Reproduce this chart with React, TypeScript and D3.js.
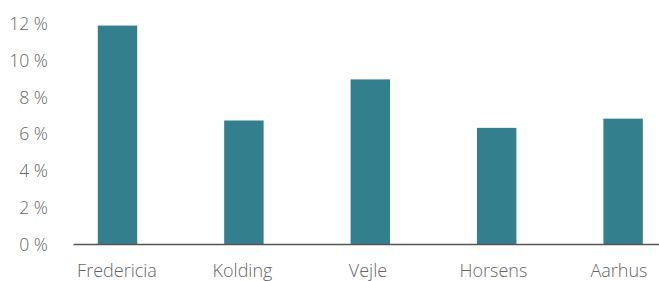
import { FC, useEffect, useRef } from 'react';
import * as d3 from 'd3';

const cities = ['Fredericia', 'Kolding', 'Vejle', 'Horsens', 'Aarhus'];
const shares = [11.85, 6.7, 8.93, 6.3, 6.8];
const yTicks = [0, 2, 4, 6, 8, 10, 12];

const width = 659;
const height = 281;

const Chart: FC = () => {
  const svgRef = useRef<SVGSVGElement>(null);

  useEffect(() => {
    if (!svgRef.current) return;
    const svg = d3.select(svgRef.current);
    svg.selectAll('*').remove();

    const font = '"Open Sans", "Segoe UI", sans-serif';

    const x = d3.scaleBand<string>()
        .domain(cities)
        .range([54.3, 686.3])
        .paddingInner(0.688)
        .paddingOuter(0.344);

    // labels sit on a slightly tighter spacing than the bars
    const xLabel = d3.scalePoint<string>()
        .domain(cities)
        .range([117, 619]);

    const y = d3.scaleLinear()
        .domain([0, 12])
        .range([244, 22.8]);

    // y tick labels (no axis line)
    svg.append('g')
        .selectAll('text')
        .data(yTicks)
        .join('text')
        .attr('x', 48)
        .attr('y', d => y(d))
        .attr('text-anchor', 'end')
        .attr('dominant-baseline', 'central')
        .attr('fill', '#666')
        .attr('font-family', font)
        .attr('font-weight', 300)
        .attr('font-size', '17.5px')
        .text(d => `${d} %`);

    // bars
    svg.append('g')
        .selectAll('rect')
        .data(cities)
        .join('rect')
        .attr('x', d => x(d)!)
        .attr('y', (_, i) => y(shares[i]))
        .attr('width', x.bandwidth())
        .attr('height', (_, i) => y(0) - y(shares[i]))
        .attr('fill', '#337f8e');

    // baseline
    svg.append('line')
        .attr('x1', 73.5)
        .attr('x2', width)
        .attr('y1', y(0) + 0.5)
        .attr('y2', y(0) + 0.5)
        .attr('stroke', '#555')
        .attr('stroke-width', 1.5);

    // category labels
    svg.append('g')
        .selectAll('text')
        .data(cities)
        .join('text')
        .attr('x', d => xLabel(d)!)
        .attr('y', 277)
        .attr('text-anchor', 'middle')
        .attr('fill', '#666')
        .attr('font-family', font)
        .attr('font-weight', 300)
        .attr('font-size', '18px')
        .text(d => d);
  }, []);

  return <svg ref={svgRef} width={width} height={height} style={{ display: 'block' }} />;
};

export default function App() {
  return (
    <div style={{ position: 'fixed', left: 0, top: 0, background: '#fff' }}>
      <Chart />
    </div>
  );
}
